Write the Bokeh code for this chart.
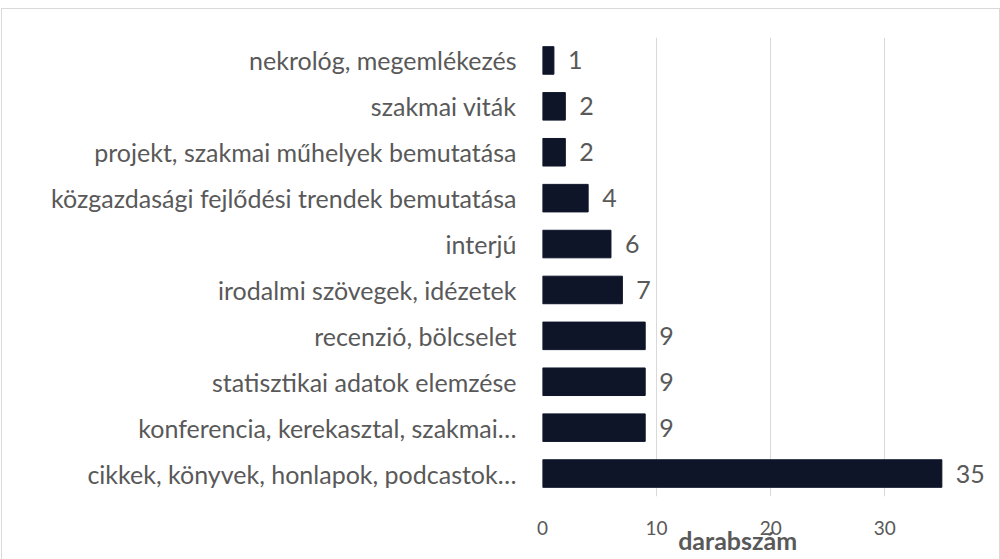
from bokeh.plotting import figure
from bokeh.models import FactorRange, Range1d, ColumnDataSource, FixedTicker
from bokeh.embed import file_html
from bokeh.resources import INLINE
from bokeh.core.properties import value

categories = [
    "nekrológ, megemlékezés",
    "szakmai viták",
    "projekt, szakmai műhelyek bemutatása",
    "közgazdasági fejlődési trendek bemutatása",
    "interjú",
    "irodalmi szövegek, idézetek",
    "recenzió, bölcselet",
    "statisztikai adatok elemzése",
    "konferencia, kerekasztal, szakmai…",
    "cikkek, könyvek, honlapok, podcastok…",
]
counts = [1, 2, 2, 4, 6, 7, 9, 9, 9, 35]
x_ticks = [0, 10, 20, 30]
axis_title = "darabszám"

FONT = "Lato"
GRAY = "#595959"
BAR = "#0e1529"

src = ColumnDataSource(dict(cat=categories, val=counts, lbl=[str(v) for v in counts]))

p = figure(
    width=999, height=551,
    y_range=FactorRange(factors=categories[::-1], range_padding=0),
    x_range=Range1d(0, 39),
    output_backend="svg", toolbar_location=None,
    min_border_left=540, min_border_right=14, min_border_top=28, min_border_bottom=64,
)
p.margin = (8, 0, 0, 1)
p.styles = {"border-top": "1px solid #d9d9d9", "border-left": "1px solid #d9d9d9",
            "border-right": "1px solid #d9d9d9"}
p.outline_line_color = None
p.background_fill_color = "white"
p.border_fill_color = "white"

p.hbar(y="cat", left=0, right="val", height=0.6, source=src,
       fill_color=BAR, line_color=BAR)
p.text(x="val", y="cat", text="lbl", source=src, x_offset=14,
       text_baseline="middle", text_align="left",
       text_font=value(FONT), text_font_size="25px", text_color=GRAY)

p.ygrid.grid_line_color = None
p.xgrid.grid_line_color = "#d9d9d9"
p.xgrid.grid_line_width = 1
p.xaxis.ticker = FixedTicker(ticks=x_ticks)

for ax in (p.xaxis[0], p.yaxis[0]):
    ax.axis_line_color = None
    ax.major_tick_line_color = None
    ax.minor_tick_line_color = None
    ax.major_label_text_color = GRAY
    ax.major_label_text_font = FONT

p.yaxis.major_label_text_font_size = "25px"
p.yaxis.major_label_standoff = 20
p.xaxis.major_label_text_font_size = "19px"
p.xaxis.major_label_standoff = 18

# axis title, shifted left (centred under the 0..35 span) with trailing no-break spaces
p.xaxis.axis_label = axis_title + "\u00a0" * 9
p.xaxis.axis_label_text_font = FONT
p.xaxis.axis_label_text_font_size = "25px"
p.xaxis.axis_label_text_font_style = "bold"
p.xaxis.axis_label_text_color = GRAY
p.xaxis.axis_label_standoff = -13

open("out.html", "w").write(file_html(p, INLINE))
